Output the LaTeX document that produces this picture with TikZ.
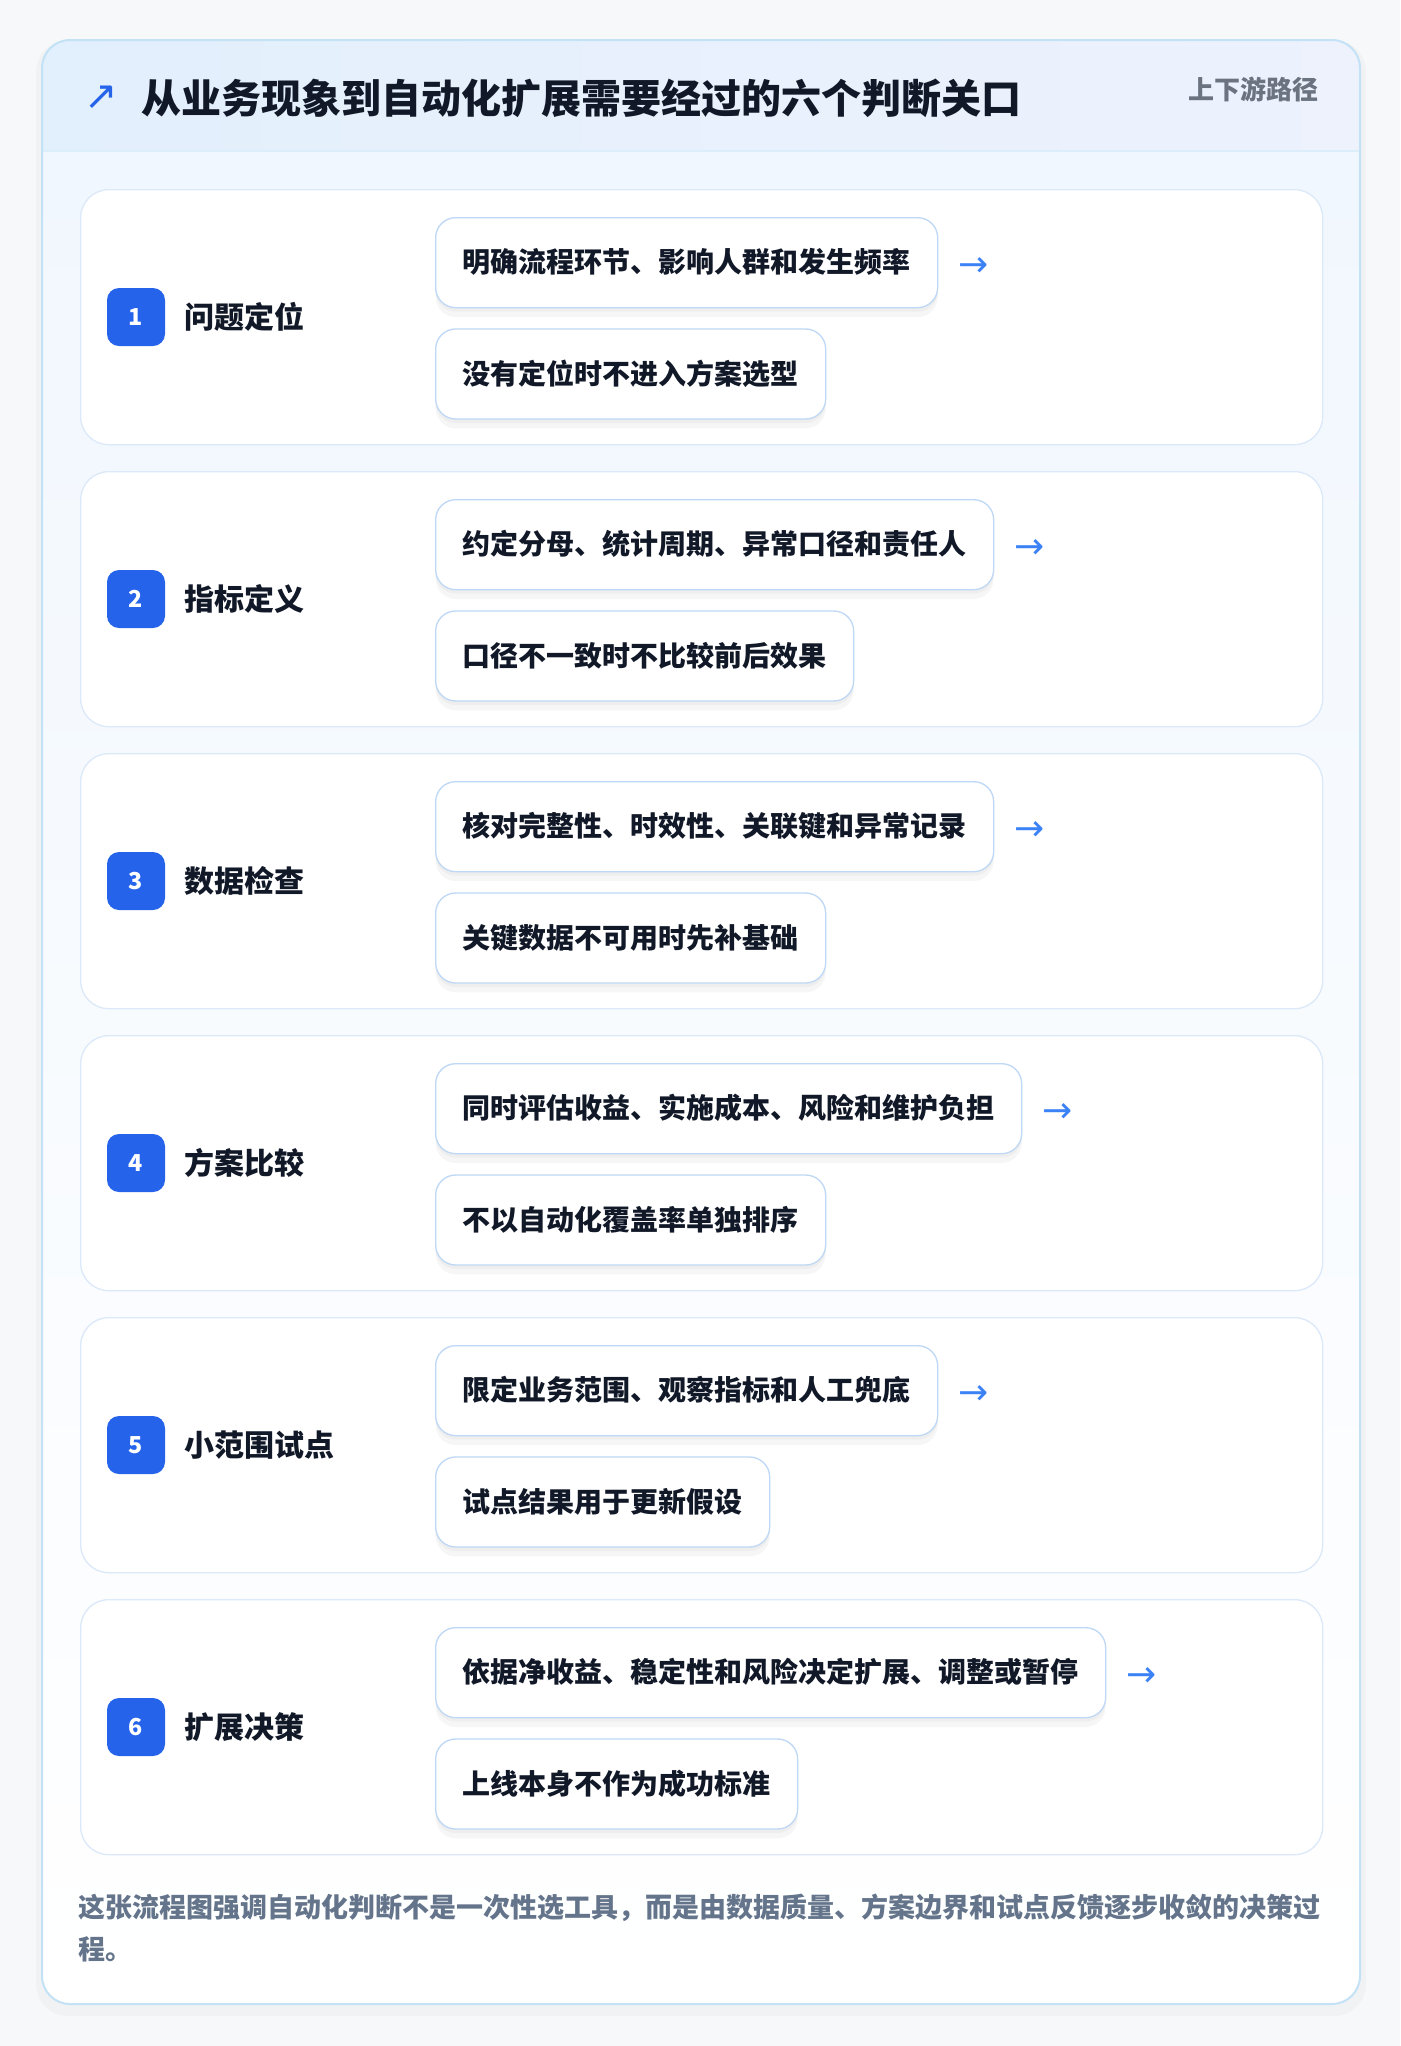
\documentclass[tikz,border=0pt]{standalone}
\usepackage{fontspec}
\setmainfont{Noto Sans CJK SC}
\newfontfamily\symfont{DejaVu Sans}
\usetikzlibrary{positioning}
\definecolor{pagebg}{HTML}{F7F8FA}
\definecolor{cardline}{HTML}{C3E2F6}
\definecolor{headleft}{HTML}{E2EFFC}
\definecolor{headright}{HTML}{EDF2FD}
\definecolor{bodytop}{HTML}{F1F7FE}
\definecolor{panelline}{HTML}{DCE9F9}
\definecolor{boxline}{HTML}{BFD8F5}
\definecolor{badgeblue}{HTML}{2563EB}
\definecolor{arrowblue}{HTML}{3B82F6}
\definecolor{ink}{HTML}{111827}
\definecolor{muted}{HTML}{6B7280}
\definecolor{notegray}{HTML}{64748B}

\begin{document}
\begin{tikzpicture}[x=0.75pt,y=-0.75pt,
  panel/.style={draw=panelline,fill=white,line width=1pt,rounded corners=21pt,
    minimum width=931.5pt,minimum height=191.25pt,anchor=north west,inner sep=0pt},
  badge/.style={fill=badgeblue,rounded corners=9pt,minimum size=43.5pt,inner sep=0pt,
    text=white,font=\bfseries\fontsize{17.5}{19}\selectfont},
  steplabel/.style={font=\bfseries\fontsize{22.5}{26}\selectfont,text=ink,inner sep=0pt},
  softshadow/.style={preaction={fill=black,opacity=0.035,transform canvas={yshift=-7pt}},
    preaction={fill=black,opacity=0.03,transform canvas={yshift=-3pt}}},
  card/.style={draw=boxline,fill=white,line width=1pt,rounded corners=15pt,softshadow,
    minimum height=67.5pt,inner xsep=20.25pt,inner ysep=0pt,text height=18pt,text depth=3pt,
    font=\bfseries\fontsize{21}{24}\selectfont,text=ink,anchor=north west},
  nextarrow/.style={font=\symfont\fontsize{27}{28}\selectfont,text=arrowblue,inner sep=0pt}]
\useasboundingbox (0,0) rectangle (1400,2046);
\fill[pagebg] (0,0) rectangle (1400,2046);
% outer card
\fill[black,opacity=0.025,rounded corners=24pt] (36,40) rectangle (1366,2016);
\begin{scope}
  \clip[rounded corners=21pt] (42,40) rectangle (1360,2004);
  \shade[top color=bodytop,bottom color=white] (42,151) rectangle (1360,2004);
  \shade[left color=headleft,right color=headright] (42,40) rectangle (1360,151);
  \draw[cardline!60,line width=1.5pt] (42,151) -- (1360,151);
\end{scope}
\draw[cardline,line width=1.5pt,rounded corners=21pt] (42,40) rectangle (1360,2004);
\node[font=\symfont\fontsize{30}{32}\selectfont,text=badgeblue] (mark) at (101,98) {↗};
\node[anchor=west,inner sep=0pt,font=\bfseries\fontsize{30}{34}\selectfont,text=ink]
  (title) at (141,98) {从业务现象到自动化扩展需要经过的六个判断关口};
\node[anchor=east,inner sep=0pt,font=\bfseries\fontsize{19.5}{22}\selectfont,text=muted]
  (route) at (1319,89) {上下游路径};
% six steps
\foreach \i/\lab/\ta/\tb [evaluate=\i as \py using {189+282*(\i-1)}] in {
  1/问题定位/明确流程环节、影响人群和发生频率/没有定位时不进入方案选型,
  2/指标定义/约定分母、统计周期、异常口径和责任人/口径不一致时不比较前后效果,
  3/数据检查/核对完整性、时效性、关联键和异常记录/关键数据不可用时先补基础,
  4/方案比较/同时评估收益、实施成本、风险和维护负担/不以自动化覆盖率单独排序,
  5/小范围试点/限定业务范围、观察指标和人工兜底/试点结果用于更新假设,
  6/扩展决策/依据净收益、稳定性和风险决定扩展、调整或暂停/上线本身不作为成功标准}
{
  \node[panel] (panel\i) at (80,\py) {};
  \node[badge] (num\i) at (136,\py+128) {\i};
  \node[steplabel,right=14pt of num\i] (lab\i) {\lab};
  \node[card] (top\i) at (435,\py+28) {\ta};
  \node[card,below=15pt of top\i.south west,anchor=north west] (bot\i) {\tb};
  \node[nextarrow,right=15pt of top\i,yshift=-3pt] (go\i) {→};
}
\node[anchor=north west,inner sep=0pt,align=left,text=notegray,
  font=\bfseries\fontsize{20.25}{31.5}\selectfont] (note) at (78,1894)
  {这张流程图强调自动化判断不是一次性选工具，而是由数据质量、方案边界和试点反馈逐步收敛的决策过\\程。};
\end{tikzpicture}
\end{document}
